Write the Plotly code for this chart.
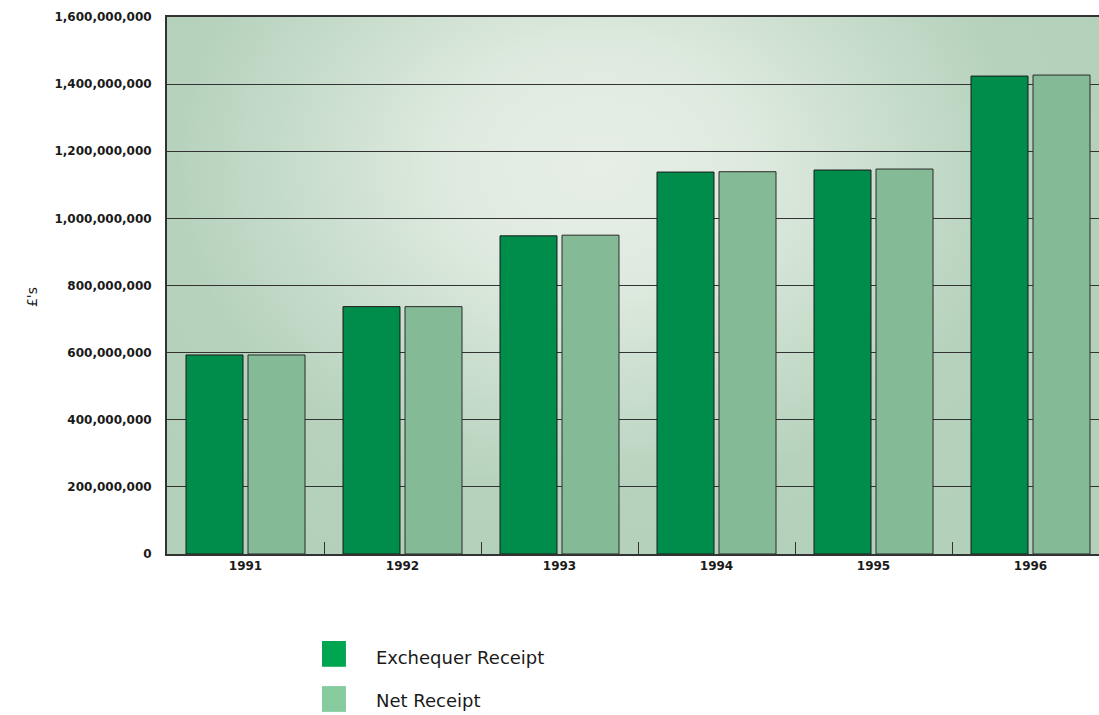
import base64
import plotly.graph_objects as go

years = ["1991", "1992", "1993", "1994", "1995", "1996"]
exchequer_receipt = [593e6, 737e6, 948e6, 1138e6, 1144e6, 1424e6]
net_receipt = [593e6, 737e6, 950e6, 1139e6, 1147e6, 1427e6]
y_ticks = [0, 200e6, 400e6, 600e6, 800e6, 1000e6, 1200e6, 1400e6, 1600e6]
y_tick_labels = [f"{int(v):,}" for v in y_ticks]

# radial green backdrop, lightest a bit above the middle
svg = """<svg xmlns='http://www.w3.org/2000/svg' width='932' height='537' preserveAspectRatio='none'>
<defs><radialGradient id='g' cx='430' cy='150' r='560' gradientUnits='userSpaceOnUse'
 gradientTransform='translate(430 150) scale(1 0.78) translate(-430 -150)'>
<stop offset='0' stop-color='#e6eee6'/><stop offset='0.25' stop-color='#e0ebe0'/>
<stop offset='0.75' stop-color='#b6d2bd'/><stop offset='1' stop-color='#b3d0bb'/>
</radialGradient></defs><rect width='932' height='537' fill='url(#g)'/></svg>"""
bg_src = "data:image/svg+xml;base64," + base64.b64encode(svg.encode()).decode()

fig = go.Figure()
fig.add_trace(go.Bar(x=years, y=exchequer_receipt, name="Exchequer Receipt",
                     marker=dict(color="#008c4b", line=dict(color="#1a1a1a", width=1))))
fig.add_trace(go.Bar(x=years, y=net_receipt, name="Net Receipt",
                     marker=dict(color="#84ba96", line=dict(color="#2a2a2a", width=1))))

fig.update_layout(
    width=1099, height=715,
    margin=dict(l=167, r=0, t=17, b=161),
    paper_bgcolor="white",
    plot_bgcolor="rgba(0,0,0,0)",
    barmode="group",
    bargap=0.21,
    bargroupgap=0.081,
    showlegend=False,
    font=dict(family="DejaVu Sans", color="#1a1a1a"),
    images=[dict(source=bg_src, xref="paper", yref="paper", x=0, y=1,
                 sizex=1, sizey=1, sizing="stretch", layer="below")],
    xaxis=dict(
        range=[-0.5, -0.5 + 932 / 157],
        tickson="boundaries", ticks="inside", ticklen=12, tickcolor="#333",
        showgrid=False, showline=True, mirror=True, linecolor="#333", linewidth=2,
        tickfont=dict(size=12, family="DejaVu Sans", weight="bold"),
    ),
    yaxis=dict(
        range=[0, 1600e6], tickvals=y_ticks, ticktext=y_tick_labels,
        showgrid=True, gridcolor="#333", gridwidth=1, zeroline=False,
        showline=True, linecolor="#333", linewidth=2,
        ticks="", ticklabelstandoff=11,
        tickfont=dict(size=12, family="DejaVu Sans", weight="bold"),
    ),
    annotations=[
        dict(text="£'s", xref="paper", yref="paper", x=-0.144, y=0.478, textangle=-90,
             xanchor="center", yanchor="middle", showarrow=False, font=dict(size=14)),
        dict(text="Exchequer Receipt", xref="paper", yref="paper", x=0.222, y=-0.192,
             xanchor="left", yanchor="middle", showarrow=False, font=dict(size=18)),
        dict(text="Net Receipt", xref="paper", yref="paper", x=0.222, y=-0.272,
             xanchor="left", yanchor="middle", showarrow=False, font=dict(size=18)),
    ],
    shapes=[
        dict(type="rect", xref="paper", yref="paper", x0=0.1663, x1=0.192, y0=-0.210,
             y1=-0.162, fillcolor="#00a551", line_width=0),
        dict(type="rect", xref="paper", yref="paper", x0=0.1663, x1=0.192, y0=-0.294,
             y1=-0.246, fillcolor="#86cb9e", line_width=0),
    ],
)

fig.write_html("out.html", config={"displayModeBar": False},
               post_script="document.body.style.margin='0';")
